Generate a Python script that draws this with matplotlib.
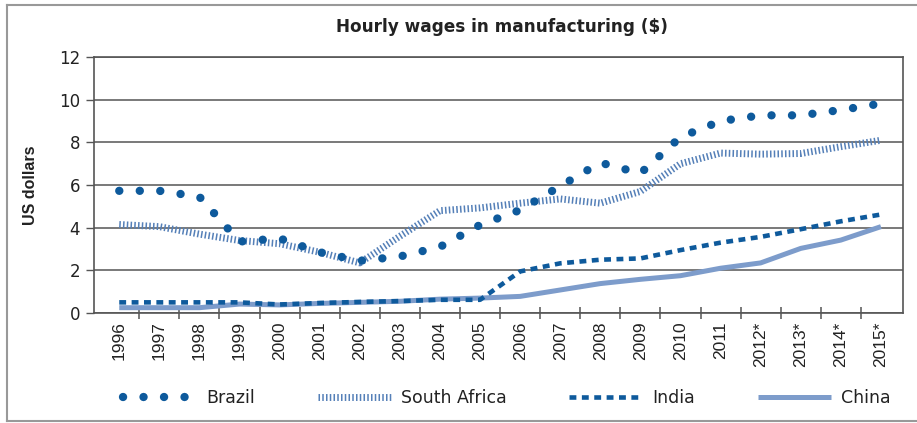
import matplotlib
matplotlib.use('Agg')
import matplotlib.pyplot as plt
from matplotlib.lines import Line2D

# 年份与各国制造业时薪（美元）
years = ['1996', '1997', '1998', '1999', '2000', '2001', '2002', '2003', '2004', '2005',
         '2006', '2007', '2008', '2009', '2010', '2011', '2012*', '2013*', '2014*', '2015*']
brazil = [5.73, 5.73, 5.45, 3.35, 3.5, 2.85, 2.45, 2.65, 3.1, 4.13,
          4.83, 5.95, 7.05, 6.55, 8.25, 9.0, 9.27, 9.27, 9.52, 9.82]
south_africa = [4.15, 4.05, 3.7, 3.4, 3.25, 2.85, 2.35, 3.6, 4.8, 4.93,
                5.15, 5.35, 5.15, 5.7, 7.0, 7.5, 7.45, 7.48, 7.8, 8.1]
india = [0.5, 0.5, 0.5, 0.5, 0.4, 0.47, 0.52, 0.56, 0.62, 0.62,
         1.95, 2.33, 2.5, 2.56, 2.95, 3.3, 3.57, 3.93, 4.3, 4.62]
china = [0.25, 0.25, 0.25, 0.42, 0.38, 0.45, 0.5, 0.55, 0.65, 0.7,
         0.78, 1.08, 1.38, 1.58, 1.75, 2.1, 2.35, 3.03, 3.42, 4.05]

DARK_BLUE = '#0e5a9c'
STRIPE_BLUE = '#5580b8'
LIGHT_BLUE = '#7d9ccb'
GRID = '#555555'
NARROW = ['Liberation Sans', 'DejaVu Sans']

fig = plt.figure(figsize=(9.17, 4.23), dpi=100)
ax = fig.add_axes([0.1025, 0.260, 0.8822, 0.605])

x = list(range(len(years)))

# 线型：巴西圆点、南非细竖纹、印度方块虚线、中国实线
styles = {
    'China': dict(color=LIGHT_BLUE, lw=3.6, ls='-', solid_capstyle='butt'),
    'South Africa': dict(color=STRIPE_BLUE, lw=5.0, ls=(0, (0.22, 0.32)), dash_capstyle='butt'),
    'India': dict(color=DARK_BLUE, lw=3.3, ls=(0, (1.5, 1.2)), dash_capstyle='butt'),
    'Brazil': dict(color=DARK_BLUE, lw=6.0, ls=(0, (0.01, 2.45)), dash_capstyle='round'),
}
series = {'China': china, 'South Africa': south_africa, 'India': india, 'Brazil': brazil}

for name in ['China', 'South Africa', 'India', 'Brazil']:
    ax.plot(x, series[name], **styles[name], zorder=3)

ax.set_xlim(-0.63, 19.55)
ax.set_ylim(0, 12)
ax.set_yticks(range(0, 13, 2))
ax.tick_params(axis='y', direction='out', length=6, width=1, color=GRID,
               labelsize=12, labelcolor='#222222', pad=4)
ax.yaxis.grid(True, color=GRID, lw=1.1, zorder=1)

# x 轴：标签在类别中心，刻度线在类别边界
ax.set_xticks(x)
ax.set_xticklabels(years, rotation=90, fontsize=12.5, color='#222222', family=NARROW)
ax.tick_params(axis='x', which='major', length=0, pad=6)
ax.set_xticks([i + 0.5 for i in x[:-1]], minor=True)
ax.tick_params(axis='x', which='minor', direction='inout', length=9, width=1.1, color=GRID)

for side in ['left', 'right', 'bottom', 'top']:
    ax.spines[side].set_color(GRID)
    ax.spines[side].set_linewidth(1.2)

ax.set_ylabel('US dollars', fontweight='bold', fontsize=11.5, color='#222222',
              labelpad=15, family=NARROW)

fig.text(0.547, 0.935, 'Hourly wages in manufacturing ($)', ha='center', va='center',
         fontsize=12.2, fontweight='bold', color='#222222')

# 图例
handles = [Line2D([], [], **styles[n]) for n in ['Brazil', 'South Africa', 'India', 'China']]
fig.legend(handles, ['Brazil', 'South Africa', 'India', 'China'], loc='center',
           bbox_to_anchor=(0.553, 0.059), ncol=4, frameon=False, fontsize=12.5,
           handlelength=4.2, handletextpad=0.6, columnspacing=3.6,
           labelcolor='#222222')

# 外框
frame_kw = dict(color='#999999', lw=1.5, transform=fig.transFigure)
fig.add_artist(Line2D([7 / 917, 1], [1 - 5 / 423, 1 - 5 / 423], **frame_kw))
fig.add_artist(Line2D([7 / 917, 7 / 917], [1 - 5 / 423, 1 - 421 / 423], **frame_kw))
fig.add_artist(Line2D([7 / 917, 1], [1 - 421 / 423, 1 - 421 / 423], **frame_kw))

fig.savefig('out.png', dpi=100)
